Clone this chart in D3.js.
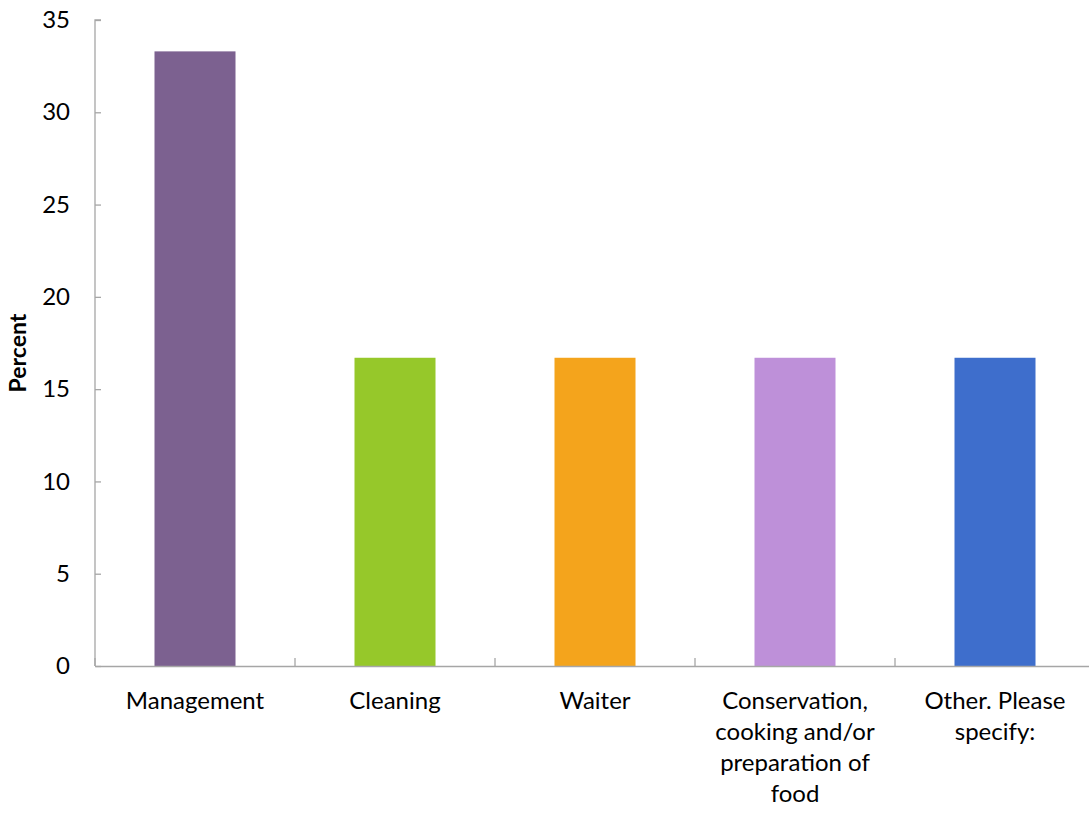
<!DOCTYPE html>
<html><head><meta charset="utf-8">
<script src="https://cdn.jsdelivr.net/npm/d3@7"></script>
<style>body{margin:0;background:#fff}svg{display:block}text{font-family:Lato,"Open Sans",sans-serif;fill:#000}</style>
</head><body><svg id="c" width="1089" height="813"></svg>
<script>
const categories = ["Management","Cleaning","Waiter","Conservation, cooking and/or preparation of food","Other. Please specify:"];
const labelLines = [["Management"],["Cleaning"],["Waiter"],["Conservation,","cooking and/or","preparation of","food"],["Other. Please","specify:"]];
const values = [33.3, 16.7, 16.7, 16.7, 16.7];
const colors = ["#7C6190","#96C82A","#F4A41C","#BE90D9","#3E6ECC"];
const yTicks = [0,5,10,15,20,25,30,35];
const yTitle = "Percent";

const svg = d3.select("#c");
const x0 = 95, x1 = 1095, yTop = 20, yBot = 666;
const x = d3.scaleBand().domain(categories).range([x0, x1]).padding(0);
const y = d3.scaleLinear().domain([0,35]).range([yBot, yTop]);
const axisCol = "#A6A6A6";

// bars
const bw = x.bandwidth()*0.405;
svg.selectAll("rect.bar").data(categories).enter().append("rect")
  .attr("x", d => x(d) + x.bandwidth()/2 - bw/2)
  .attr("y", (d,i) => y(values[i]))
  .attr("width", bw)
  .attr("height", (d,i) => y(0) - y(values[i]))
  .attr("fill", (d,i) => colors[i]);

// y axis
const ya = svg.append("g").attr("transform", `translate(${x0},0)`)
  .call(d3.axisLeft(y).tickValues(yTicks).tickSize(-6).tickPadding(25).tickFormat(d3.format("d")));
ya.select(".domain").attr("stroke", axisCol).attr("stroke-width",1.3).attr("d", `M6,${yTop}H0V${yBot}`);
ya.selectAll(".tick line").attr("stroke", axisCol).attr("stroke-width",1.3);
ya.selectAll(".tick text").style("font-size","24px").attr("fill","#000");

// x axis
const xa = svg.append("g").attr("transform", `translate(0,${yBot})`)
  .call(d3.axisBottom(x).tickSize(0).tickFormat(""));
xa.select(".domain").attr("stroke", axisCol).attr("stroke-width",1.3);
xa.selectAll(".tick").remove();
const bounds = categories.map(d => x(d)).concat([x1]);
xa.selectAll("line.xt").data(bounds).enter().append("line")
  .attr("x1", d => d).attr("x2", d => d).attr("y1", 0).attr("y2", -8)
  .attr("stroke", axisCol).attr("stroke-width",1.3);

// category labels
categories.forEach((c,i) => {
  const t = svg.append("text").attr("text-anchor","middle").style("font-size","24px")
    .attr("x", x(c) + x.bandwidth()/2).attr("y", 709);
  labelLines[i].forEach((l,j) => t.append("tspan").attr("x", x(c) + x.bandwidth()/2).attr("dy", j===0?0:31).text(l));
});

// y title
svg.append("text").attr("transform", `translate(26,${(yTop+yBot)/2+10}) rotate(-90)`)
  .attr("text-anchor","middle").style("font-size","23px").style("font-weight","bold").text(yTitle);
</script></body></html>
